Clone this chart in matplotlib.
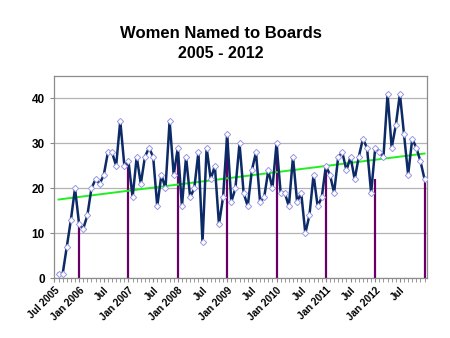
import numpy as np
import matplotlib.pyplot as plt

# monthly counts, Aug 2005 .. Jan 2013 (month offset 1 = Aug 2005)
counts = [1, 1, 7, 13, 20,
          12, 11, 14, 20, 22, 21, 23, 28, 28, 25, 35, 25,
          26, 18, 27, 21, 27, 29, 27, 16, 23, 20, 35, 23,
          29, 16, 27, 18, 20, 28, 8, 29, 22, 25, 12, 18,
          32, 17, 20, 30, 19, 16, 24, 28, 17, 18, 24, 20,
          30, 19, 19, 16, 27, 17, 19, 10, 14, 23, 16, 18,
          25, 23, 19, 27, 28, 24, 27, 22, 27, 31, 29, 19,
          29, 28, 27, 41, 29, 34, 41, 32, 23, 31, 29, 26,
          22]
months = np.arange(1, len(counts) + 1)

# January markers (month offsets and heights)
jan_months = [6, 18, 30, 42, 54, 66, 78, 90]
jan_values = [12, 26, 29, 32, 30, 25, 22, 22]

tick_months = list(range(0, 85, 6))
tick_labels = ['Jul 2005', 'Jan 2006', 'Jul', 'Jan 2007', 'Jul', 'Jan 2008',
               'Jul', 'Jan 2009', 'Jul', 'Jan 2010', 'Jul', 'Jan 2011',
               'Jul', 'Jan 2012', 'Jul']

plt.rcParams['font.family'] = ['Liberation Sans', 'DejaVu Sans']

fig = plt.figure(figsize=(4.5, 3.38), dpi=100)
ax = fig.add_axes([0.121, 0.1766, 0.828, 0.599])

ax.vlines(jan_months, 0, jan_values, color='#660066', lw=1.6, zorder=2)

# linear trend over the data range
coef = np.polyfit(months, counts, 1)
ax.plot(months[[0, -1]], np.polyval(coef, months[[0, -1]]),
        color='#22ee22', lw=1.4, zorder=3)

ax.plot(months, counts, color='#0b2a66', lw=1.8, marker='D', ms=3.2,
        mfc='white', mec='#9a9ae6', mew=0.7, zorder=4)

ax.set_xlim(0, 90.6)
ax.set_ylim(0, 45)
ax.set_yticks([0, 10, 20, 30, 40])
ax.yaxis.grid(True, color='#b4b4b4', lw=0.9)
ax.set_axisbelow(True)

ax.set_xticks(tick_months)
ax.set_xticks(np.arange(0, 91), minor=True)
ax.set_xticklabels(tick_labels, rotation=45, ha='right', rotation_mode='anchor',
                   fontsize=7.2, fontweight='bold')
for lab in ax.get_yticklabels():
    lab.set_fontsize(8.5)
    lab.set_fontweight('bold')

ax.tick_params(axis='x', which='both', direction='out', length=3,
               color='#888888', pad=2)
ax.tick_params(axis='y', direction='out', length=3, color='#888888', pad=4)
for s in ax.spines.values():
    s.set_color('#8c8c8c')
    s.set_linewidth(0.9)

fig.text(0.49, 0.902, 'Women Named to Boards', ha='center', va='center',
         fontsize=12, fontweight='bold')
fig.text(0.49, 0.843, '2005 - 2012', ha='center', va='center',
         fontsize=11.5, fontweight='bold')

fig.savefig('out.png', dpi=100)
